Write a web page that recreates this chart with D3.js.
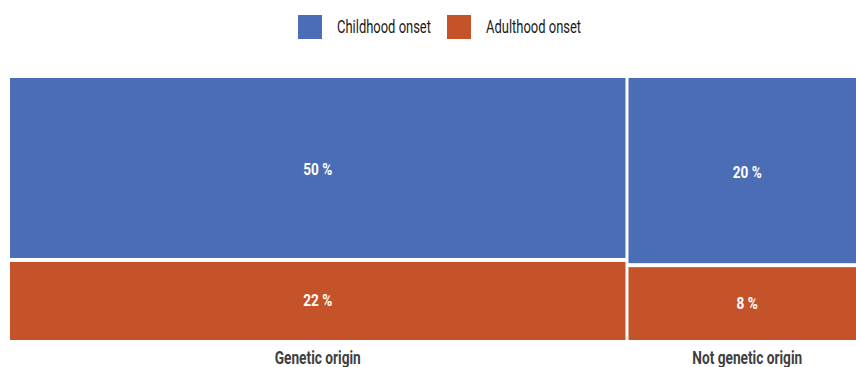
<!DOCTYPE html>
<html>
<head>
<meta charset="utf-8">
<script src="https://cdn.jsdelivr.net/npm/d3@7"></script>
<style>
body { margin: 0; background: #fff; }
text { font-family: "Roboto", "Liberation Sans", sans-serif; }
</style>
</head>
<body>
<div id="chart"></div>
<script>
// data
var origins = ["Genetic origin", "Not genetic origin"];
var onsets = ["Childhood onset", "Adulthood onset"];
var childhood = [50, 20];
var adulthood = [22, 8];
var colors = ["#4a6db5", "#c4532a"];

var W = 856, H = 367;
var svg = d3.select("#chart").append("svg").attr("width", W).attr("height", H);

var gap = 3;
var totals = origins.map(function(o, i){ return childhood[i] + adulthood[i]; });
var grand = d3.sum(totals);

// horizontal: share of each origin
var x = d3.scaleLinear().domain([0, grand]).range([10, 869]);
// vertical: share inside each column
var y = d3.scaleLinear().domain([0, 1]).range([78, 340]);

var cells = [];
var x0 = 0;
origins.forEach(function(o, i){
    var vals = [childhood[i], adulthood[i]];
    var y0 = 0;
    vals.forEach(function(v, j){
        cells.push({origin: o, col: i, row: j, value: v, x0: x0, x1: x0 + totals[i], y0: y0, y1: y0 + v / totals[i]});
        y0 += v / totals[i];
    });
    x0 += totals[i];
});

// narrow font look
function condense(sel, k) {
    sel.each(function(){
        var len = this.getComputedTextLength();
        d3.select(this).attr("textLength", len * k).attr("lengthAdjust", "spacingAndGlyphs");
    });
}

svg.selectAll("rect.cell")
    .data(cells)
    .enter().append("rect")
    .attr("class", "cell")
    .attr("x", function(d){ return x(d.x0); })
    .attr("width", function(d){ return x(d.x1) - x(d.x0) - gap; })
    .attr("y", function(d){ return y(d.y0) + (d.row > 0 ? 2 : 0); })
    .attr("height", function(d){ return y(d.y1) - y(d.y0) - 2; })
    .attr("fill", function(d){ return colors[d.row]; });

svg.selectAll("text.val")
    .data(cells)
    .enter().append("text")
    .attr("class", "val")
    .attr("x", function(d){ return (x(d.x0) + x(d.x1) - gap) / 2; })
    .attr("y", function(d){ return (y(d.y0) + y(d.y1)) / 2 + 6; })
    .attr("text-anchor", "middle")
    .attr("fill", "#fff")
    .style("font-weight", "bold")
    .style("font-size", "17px")
    .text(function(d){ return d.value + " %"; })
    .call(condense, 0.8);

// category labels
svg.selectAll("text.cat")
    .data(origins)
    .enter().append("text")
    .attr("class", "cat")
    .attr("x", function(d, i){
        var a = d3.sum(totals.slice(0, i));
        return (x(a) + x(a + totals[i]) - gap) / 2;
    })
    .attr("y", 364)
    .attr("text-anchor", "middle")
    .attr("fill", "#404040")
    .style("font-weight", "bold")
    .style("font-size", "18px")
    .text(function(d){ return d; })
    .call(condense, 0.76);

// legend
var legX = [298, 447];
var leg = svg.selectAll("g.leg")
    .data(onsets)
    .enter().append("g")
    .attr("class", "leg")
    .attr("transform", function(d, i){ return "translate(" + legX[i] + ",15)"; });
leg.append("rect")
    .attr("width", 24).attr("height", 24)
    .attr("fill", function(d, i){ return colors[i]; });
leg.append("text")
    .attr("x", 39).attr("y", 18)
    .attr("fill", "#1a1a1a")
    .style("font-size", "18px")
    .text(function(d){ return d; })
    .call(condense, 0.72);
</script>
</body>
</html>
